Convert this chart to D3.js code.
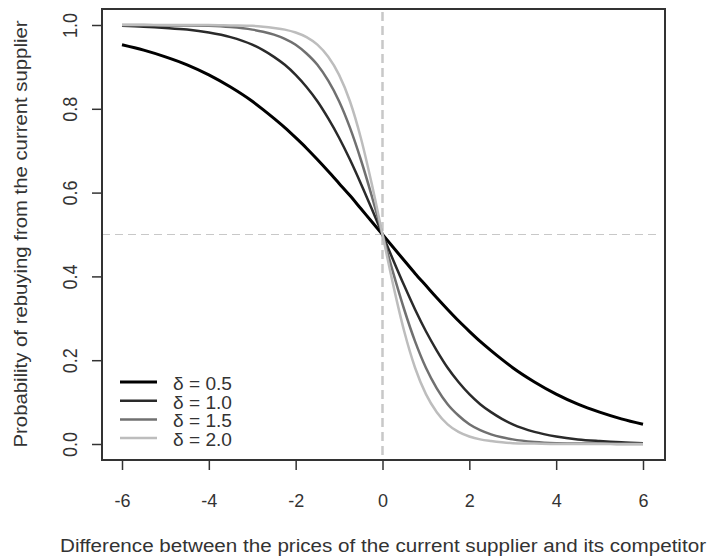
<!DOCTYPE html>
<head>
  <meta charset="utf-8">
  <script src="https://cdnjs.cloudflare.com/ajax/libs/d3/7.8.5/d3.min.js"></script>
</head>

<style>
body {
  margin: 0;
  background-color: #fff;
}
svg text {
  font-family: "Liberation Sans", Arial, sans-serif;
  fill: #333;
}
</style>

<body>
  <svg id='chart' width='710' height='558'></svg>
</body>

<script>

// price difference grid
var priceDiff = [-6, -5.5, -5, -4.5, -4, -3.5, -3, -2.75, -2.5, -2.25, -2, -1.75, -1.5, -1.25, -1, -0.75, -0.5, -0.25,
                 0, 0.25, 0.5, 0.75, 1, 1.25, 1.5, 1.75, 2, 2.25, 2.5, 2.75, 3, 3.5, 4, 4.5, 5, 5.5, 6];

var delta05 = [0.953, 0.940, 0.924, 0.905, 0.881, 0.852, 0.818, 0.798, 0.777, 0.755, 0.731, 0.706, 0.679, 0.651, 0.622, 0.593, 0.562, 0.531,
               0.5, 0.469, 0.438, 0.407, 0.378, 0.349, 0.321, 0.294, 0.269, 0.245, 0.223, 0.202, 0.182, 0.148, 0.119, 0.095, 0.076, 0.060, 0.047];
var delta10 = [0.998, 0.996, 0.993, 0.989, 0.982, 0.971, 0.953, 0.940, 0.924, 0.905, 0.881, 0.852, 0.818, 0.777, 0.731, 0.679, 0.622, 0.562,
               0.5, 0.438, 0.378, 0.321, 0.269, 0.223, 0.182, 0.148, 0.119, 0.095, 0.076, 0.060, 0.047, 0.029, 0.018, 0.011, 0.007, 0.004, 0.002];
var delta15 = [1.0, 1.0, 0.999, 0.999, 0.998, 0.995, 0.989, 0.984, 0.977, 0.967, 0.953, 0.932, 0.905, 0.867, 0.818, 0.755, 0.679, 0.593,
               0.5, 0.407, 0.321, 0.245, 0.182, 0.133, 0.095, 0.068, 0.047, 0.033, 0.023, 0.016, 0.011, 0.005, 0.002, 0.001, 0.001, 0.0, 0.0];
var delta20 = [1.0, 1.0, 1.0, 1.0, 1.0, 0.999, 0.998, 0.996, 0.993, 0.989, 0.982, 0.971, 0.953, 0.924, 0.881, 0.818, 0.731, 0.622,
               0.5, 0.378, 0.269, 0.182, 0.119, 0.076, 0.047, 0.029, 0.018, 0.011, 0.007, 0.004, 0.002, 0.001, 0.0, 0.0, 0.0, 0.0, 0.0];

var seriesNames = ['δ = 0.5', 'δ = 1.0', 'δ = 1.5', 'δ = 2.0'];
var seriesValues = [delta05, delta10, delta15, delta20];
var seriesColours = ['#000000', '#2a2a2a', '#707070', '#bdbdbd'];
var seriesWidths = [3, 2.5, 2.5, 2.5];

var xTicks = [-6, -4, -2, 0, 2, 4, 6];
var yTicks = [0, 0.2, 0.4, 0.6, 0.8, 1.0];

var svg = d3.select('#chart');

var box = {left: 102, top: 9, right: 665, bottom: 460};

var x = d3.scaleLinear().domain([-6, 6]).range([122, 643]);
var y = d3.scaleLinear().domain([0, 1]).range([444, 25]);

// reference lines
svg.append('line')
    .attr('x1', box.left).attr('x2', box.right - 4)
    .attr('y1', y(0.5)).attr('y2', y(0.5))
    .attr('stroke', '#c8c8c8')
    .attr('stroke-width', 1.2)
    .attr('stroke-dasharray', '8,5');

svg.append('line')
    .attr('x1', x(0)).attr('x2', x(0))
    .attr('y1', box.top + 3).attr('y2', box.bottom)
    .attr('stroke', '#c8c8c8')
    .attr('stroke-width', 2.5)
    .attr('stroke-dasharray', '9,5');

// curves
var line = d3.line()
    .x(function(d, i) { return x(priceDiff[i]); })
    .y(function(d) { return y(d); })
    .curve(d3.curveMonotoneX);

svg.selectAll('path.curve')
    .data(seriesValues)
  .enter().append('path')
    .attr('class', 'curve')
    .attr('d', line)
    .attr('fill', 'none')
    .attr('stroke', function(d, i) { return seriesColours[i]; })
    .attr('stroke-width', function(d, i) { return seriesWidths[i]; });

// frame
svg.append('rect')
    .attr('x', box.left).attr('y', box.top)
    .attr('width', box.right - box.left)
    .attr('height', box.bottom - box.top)
    .attr('fill', 'none')
    .attr('stroke', '#333')
    .attr('stroke-width', 2);

// axes
var xAxis = svg.append('g')
    .attr('transform', 'translate(0,' + box.bottom + ')')
    .call(d3.axisBottom(x).tickValues(xTicks).tickSize(10).tickPadding(0).tickFormat(d3.format('d')));
xAxis.select('.domain').remove();
xAxis.selectAll('line').attr('stroke', '#333').attr('stroke-width', 1.5);
xAxis.selectAll('text')
    .attr('y', 47).attr('dy', null)
    .style('font-size', '18px')
    .text(function(d) { return d < 0 ? '-' + Math.abs(d) : d; });

var yAxis = svg.append('g')
    .attr('transform', 'translate(' + box.left + ',0)')
    .call(d3.axisLeft(y).tickValues(yTicks).tickSize(10).tickFormat(d3.format('.1f')));
yAxis.select('.domain').remove();
yAxis.selectAll('line').attr('stroke', '#333').attr('stroke-width', 1.5);
yAxis.selectAll('text')
    .attr('x', null).attr('dy', null)
    .attr('text-anchor', 'middle')
    .attr('transform', 'translate(-25,0) rotate(-90) scale(1,1.15)')
    .style('font-size', '18px');

// titles
svg.append('text')
    .attr('x', 383).attr('y', 552)
    .attr('text-anchor', 'middle')
    .attr('textLength', 646)
    .attr('lengthAdjust', 'spacingAndGlyphs')
    .style('font-size', '18px')
    .text('Difference between the prices of the current supplier and its competitor');

svg.append('text')
    .attr('transform', 'translate(27,234) rotate(-90) scale(1,1.1)')
    .attr('text-anchor', 'middle')
    .attr('textLength', 427)
    .attr('lengthAdjust', 'spacingAndGlyphs')
    .style('font-size', '17px')
    .text('Probability of rebuying from the current supplier');

// legend
var legend = svg.selectAll('g.legend')
    .data(seriesNames)
  .enter().append('g')
    .attr('class', 'legend')
    .attr('transform', function(d, i) { return 'translate(120,' + (382 + i * 18.7) + ')'; });

legend.append('line')
    .attr('x1', 0).attr('x2', 37)
    .attr('stroke', function(d, i) { return seriesColours[i]; })
    .attr('stroke-width', function(d, i) { return seriesWidths[i]; });

legend.append('text')
    .attr('x', 53).attr('y', 8)
    .attr('textLength', 59)
    .attr('lengthAdjust', 'spacingAndGlyphs')
    .style('font-size', '18px')
    .text(function(d) { return d; });

</script>
